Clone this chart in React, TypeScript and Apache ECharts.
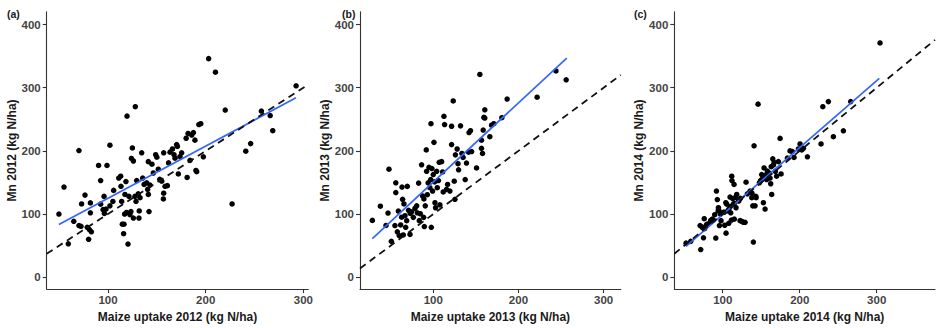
import React, { useEffect, useRef } from "react";
import * as echarts from "echarts";

const panelLabels = ["(a)", "(b)", "(c)"];
const xTitles = [
  "Maize uptake 2012 (kg N/ha)",
  "Maize uptake 2013 (kg N/ha)",
  "Maize uptake 2014 (kg N/ha)",
];
const yTitles = ["Mn 2012 (kg N/ha)", "Mn 2013 (kg N/ha)", "Mn 2014 (kg N/ha)"];
const xTicks = [100, 200, 300];
const yTicks = [0, 100, 200, 300, 400];
const xRanges = [
  [37.3, 305],
  [14, 320],
  [37.1, 375.7],
];
const yRange = [-18.75, 420.3];

const points2012 = [
  [49.8, 100], [55, 142.7], [59.4, 53], [65, 88.5], [70.3, 200.5], [70.3, 81.8], [72.4, 80.7],
  [73, 116], [76.5, 130], [78.8, 79], [80.2, 60], [81, 75.5], [82, 117.7], [82, 102], [83, 72],
  [90.4, 177], [92.5, 153], [92.5, 115.6], [95, 107], [96, 128], [96.3, 101], [98, 108], [99, 177],
  [102, 209], [102, 113], [105, 120], [105.8, 137.5], [111, 157], [113, 160], [113.3, 144], [114, 120],
  [114.7, 84], [116.4, 84], [116, 69], [117, 100], [117.4, 131], [118.4, 151.5], [119, 102.6],
  [119.5, 255], [120.5, 52.6], [121.5, 128], [122.5, 99], [123.5, 104], [124, 188], [125, 204.7],
  [126, 184], [126, 93.7], [128, 270], [127.6, 128], [128.7, 120], [129.4, 153], [131, 132],
  [131.7, 93.7], [132, 105], [132.8, 126], [134.5, 197], [135.5, 157], [137, 147], [139.6, 149.5],
  [140.6, 139], [141.3, 183], [141.3, 131], [142, 104], [143, 146], [145, 179], [146.4, 165],
  [148.8, 194], [150, 190], [151.5, 171], [153, 155], [155, 152], [156.7, 124], [157, 197],
  [157, 133], [158.4, 144], [160.8, 145], [162, 181], [163.5, 198], [166, 203], [167.6, 194],
  [168.6, 188.5], [170.3, 210], [171, 207], [172, 163.5], [173.7, 191], [175.4, 197], [180, 220],
  [181, 158], [182, 227.6], [184, 185], [185.7, 225], [187.4, 229], [189, 217], [190, 169],
  [190.8, 167], [193, 241.7], [195, 243], [197.6, 190.6], [203, 346], [210, 324.5], [220, 264.6],
  [227, 116], [241, 199.5], [246, 211.5], [257, 263], [266, 256], [268.6, 232], [292.5, 303],
];
const points2013 = [
  [28.5, 90], [37.9, 112.5], [44.5, 82], [46.9, 101.6], [48, 171], [50.8, 56.8], [55, 81.8],
  [56, 149.5], [56, 134], [57.8, 72], [59, 104.7], [60, 66], [61.7, 82.8], [62.9, 95], [63.3, 142.7],
  [64, 123.4], [64.8, 67], [65.6, 116], [66.8, 97.4], [67.6, 79], [68.8, 89.6], [69.5, 143.8],
  [71, 106], [72.7, 67.7], [73, 101], [74.6, 103.6], [76.6, 94.8], [78.5, 109], [80.5, 113],
  [81.3, 102], [82.8, 149], [83.6, 89.6], [84.8, 100.5], [86.3, 178], [87.5, 128.6], [89, 124],
  [88.7, 94.8], [89.5, 80.2], [90.6, 113], [91.8, 201.6], [92.2, 167.7], [93, 130.7], [94, 149.5],
  [95, 174], [96, 141.7], [97, 154.7], [97.3, 243], [97.7, 79], [98.4, 172], [99.2, 136.5],
  [100, 162.5], [100.8, 213.5], [101.6, 151], [102, 118], [102.7, 110], [104, 167.7], [104.7, 141.7],
  [106, 153], [107, 182], [107.8, 114.6], [109.8, 183], [111, 166.7], [111.7, 135], [112.5, 254.7],
  [113.3, 241.7], [115.6, 139], [116.8, 146.9], [119.5, 136.5], [121.5, 210], [121.5, 239],
  [123.4, 279], [124.6, 152], [125.4, 123.4], [126, 193.7], [128, 203], [129, 179.7], [129.7, 170],
  [132, 239.6], [133.6, 196], [135, 189.6], [137.5, 154.7], [139, 180.7], [141.4, 198], [142, 229],
  [143.7, 232], [145, 199], [150.8, 173], [154.7, 321], [156.6, 217], [156.6, 204], [157.8, 196],
  [158.6, 233], [159.4, 253], [160.5, 265], [160.5, 252], [166.4, 222.4], [168.4, 240.6],
  [171, 243], [180.5, 252.6], [186.7, 282], [221.9, 285], [244, 326.5], [256, 312.5],
];
const points2014 = [
  [52.4, 54], [58.4, 56.8], [71.4, 43.8], [70.6, 81.8], [74, 79], [75, 62.5], [76, 92.7], [79, 83.3],
  [83.5, 86.5], [88, 90.6], [89.6, 99], [91, 62], [91.8, 136.5], [93, 123], [94, 105], [94.4, 110],
  [95.7, 81.8], [97.8, 89.6], [100.9, 102.6], [102.6, 82.3], [104.3, 69.8], [105.2, 115.6],
  [106.5, 105], [107.8, 85.4], [109.5, 127], [110.4, 102], [111.3, 90.6], [111.7, 160], [112, 153],
  [113, 124.5], [113.8, 115.6], [114.7, 147], [115, 92], [116.5, 126.6], [117.3, 110], [118.2, 131],
  [120.3, 120.8], [122.5, 89.6], [124.7, 88.5], [126.8, 87], [129, 87], [130.3, 150.5], [132, 132],
  [135.5, 136.5], [137.7, 126], [139, 113], [139.8, 55.7], [140.7, 208], [142, 113], [143.3, 126],
  [145.9, 274], [147.6, 149.5], [149.4, 153], [150.6, 162.5], [152.8, 118], [153.7, 173], [155, 108],
  [157, 154.7], [161.5, 157], [162.3, 148], [163.6, 131], [165, 187.5], [166.7, 182], [168.4, 167.7],
  [170, 160], [172.3, 183], [174.5, 219.8], [175.8, 163.5], [187.4, 200], [192.6, 189.6],
  [198.3, 203], [200.4, 211], [202.6, 201.6], [204.8, 204], [210, 190.6], [227.7, 211], [230, 270],
  [237.2, 278], [243.7, 222.4], [256.7, 231.8], [266.2, 278], [304.3, 370.8],
  [73.5, 79], [76.6, 77], [80, 84], [84.4, 90], [86.5, 92], [95, 106], [97, 100], [102, 103],
  [104, 118], [108, 108], [110, 112], [115, 117], [121, 121], [123, 125], [138, 133], [143, 128],
  [149, 152], [151, 155], [154, 160], [156, 162], [158, 168], [160, 165], [163, 175], [166, 178],
  [184, 188.6], [190.4, 199],
];
const fits = [
  [[49.8, 83.4], [292.4, 284]],
  [[28.5, 61], [256.7, 347]],
  [[52.3, 49], [303.4, 314.7]],
];
const oneToOne = [
  [[37.3, 37.3], [305, 305]],
  [[14, 14], [320, 320]],
  [[37.1, 37.1], [375.7, 375.7]],
];
const pointSets = [points2012, points2013, points2014];

const gridLefts = [46.7, 360, 674.3];
const gridWidths = [261.6, 260.7, 260.7];
const labelXs = [7, 342, 634];

const FONT = "Liberation Sans";

export default function App() {
  const ref = useRef<HTMLDivElement>(null);
  useEffect(() => {
    document.body.style.margin = "0";
    const chart = echarts.init(ref.current!, null, { renderer: "svg" });
    const axisLineStyle = { color: "#333", width: 1.1 };
    const grid = [0, 1, 2].map((i) => ({
      left: gridLefts[i],
      top: 11.7,
      width: gridWidths[i],
      height: 281,
      containLabel: false,
    }));
    const xAxis = [0, 1, 2].map((i) => ({
      type: "value",
      gridIndex: i,
      min: xRanges[i][0],
      max: xRanges[i][1],
      axisLine: { show: true, onZero: false, lineStyle: axisLineStyle },
      axisTick: { show: true, length: 4, customValues: xTicks, lineStyle: axisLineStyle },
      axisLabel: {
        customValues: xTicks,
        fontSize: 11.5,
        fontWeight: "bold",
        color: "#444",
        margin: 5,
        fontFamily: FONT,
      },
      splitLine: { show: false },
      name: xTitles[i],
      nameLocation: "middle",
      nameGap: 18,
      nameTextStyle: { fontSize: 12, fontWeight: "bold", color: "#1a1a1a", fontFamily: FONT },
    }));
    const yAxis = [0, 1, 2].map((i) => ({
      type: "value",
      gridIndex: i,
      min: yRange[0],
      max: yRange[1],
      axisLine: { show: true, onZero: false, lineStyle: axisLineStyle },
      axisTick: { show: true, length: 4, customValues: yTicks, lineStyle: axisLineStyle },
      axisLabel: {
        customValues: yTicks,
        fontSize: 11.5,
        fontWeight: "bold",
        color: "#444",
        margin: 6,
        fontFamily: FONT,
      },
      splitLine: { show: false },
      name: yTitles[i],
      nameLocation: "middle",
      nameGap: 27,
      nameRotate: 90,
      nameTextStyle: { fontSize: 12, fontWeight: "bold", color: "#1a1a1a", fontFamily: FONT },
    }));
    const series: any[] = [];
    [0, 1, 2].forEach((i) => {
      series.push({
        type: "scatter",
        xAxisIndex: i,
        yAxisIndex: i,
        data: pointSets[i],
        symbolSize: 5.5,
        itemStyle: { color: "#000", opacity: 1 },
        z: 2,
      });
      series.push({
        type: "line",
        xAxisIndex: i,
        yAxisIndex: i,
        data: fits[i],
        showSymbol: false,
        lineStyle: { color: "#3366FF", width: 1.7 },
        z: 3,
      });
      series.push({
        type: "line",
        xAxisIndex: i,
        yAxisIndex: i,
        data: oneToOne[i],
        showSymbol: false,
        lineStyle: { color: "#111", width: 1.8, type: [7, 5] },
        z: 4,
      });
    });
    chart.setOption({
      animation: false,
      textStyle: { fontFamily: FONT },
      grid,
      xAxis,
      yAxis,
      series,
      graphic: panelLabels.map((t, i) => ({
        type: "text",
        left: labelXs[i],
        top: 8,
        style: { text: t, fontSize: 10.5, fontWeight: "bold", fill: "#1a1a1a", fontFamily: FONT },
      })),
    });
    return () => chart.dispose();
  }, []);
  return <div ref={ref} style={{ width: 940, height: 328 }} />;
}
